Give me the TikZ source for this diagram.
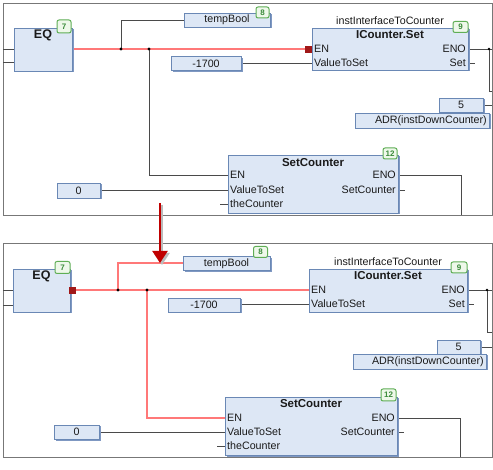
\documentclass[tikz,border=0pt]{standalone}
\usepackage{fontspec}
\setmainfont{Liberation Sans}
\usetikzlibrary{shadows,arrows.meta,calc}
\definecolor{fbfill}{HTML}{DDE7F5}
\definecolor{fbedge}{HTML}{6A88B5}
\definecolor{fbshadow}{HTML}{7F98C2}
\definecolor{wire}{HTML}{4A4A4A}
\definecolor{redwire}{HTML}{FF7878}
\definecolor{framec}{HTML}{777777}
\definecolor{badgeedge}{HTML}{5FAE55}
\definecolor{badgefill}{HTML}{EEF8EA}
\definecolor{badgetext}{HTML}{3A8A3A}
\definecolor{arrowred}{HTML}{C00000}
\definecolor{arrowshade}{HTML}{BBBBBB}
\definecolor{pinred}{HTML}{A01818}
\definecolor{txt}{HTML}{1A1A1A}
\tikzset{
  fb/.style={draw=fbedge, fill=fbfill, line width=0.8pt, inner sep=0pt,
    font=\fontsize{10.7}{11}\selectfont, text=txt,
    general shadow={fill=fbshadow, shadow xshift=1.5pt, shadow yshift=-1.5pt}},
  badge/.style={draw=badgeedge, fill=badgefill, line width=1pt, rounded corners=2pt,
    inner sep=0pt, font=\fontsize{8}{8}\selectfont\bfseries, text=badgetext},
  pinlbl/.style={inner sep=0pt, font=\fontsize{10.7}{11}\selectfont, text=txt},
  fbtitle/.style={inner sep=0pt, font=\fontsize{11.5}{12}\selectfont\bfseries, text=txt},
  wireg/.style={draw=wire, line width=0.8pt},
  wirer/.style={draw=redwire, line width=1.6pt},
  panel/.style={draw=framec, line width=0.9pt},
  jdot/.style={fill=black},
  redpin/.style={fill=pinred, minimum size=7pt, inner sep=0pt},
  bigarrow/.style={draw=arrowred, line width=2.2pt, -{Triangle[width=15pt,length=12pt]}},
  arrowshadow/.style={draw=arrowshade, line width=2.2pt, -{Triangle[width=15pt,length=12pt]}}
}
\begin{document}
\begin{tikzpicture}[x=1pt,y=-1pt]
\useasboundingbox (0,0) rectangle (493,470);
\fill[white] (0,0) rectangle (493,470);

%================ TOP PANEL =================
\draw[panel] (3,215) -- (3,3) -- (492,3) -- (492,215) -- cycle;

\coordinate (tIn1a) at (3,49);   \coordinate (tIn1b) at (14,49);
\coordinate (tIn2a) at (3,62);   \coordinate (tIn2b) at (14,62);
\coordinate (tEQo) at (72,49);
\coordinate (tJ1) at (121,49);
\coordinate (tJ2) at (149,49);
\coordinate (tICen) at (305,49);
\coordinate (tICvts) at (312,63);
\coordinate (tICeno) at (468,49);
\coordinate (tJ3) at (489,49);
\coordinate (tR1) at (492,49);
\coordinate (tR2) at (492,91);
\coordinate (tICset) at (468,63);
\coordinate (tICsetE) at (475,63);
\coordinate (t5E) at (492,105);
\coordinate (tSCen) at (228,175);
\coordinate (tSCvts) at (228,190);
\coordinate (tSCtc) at (228,204);
\coordinate (tSCtcS) at (220,204);
\coordinate (tSCeno) at (398,175);
\coordinate (tSCdown) at (461,215);
\coordinate (tSCsc) at (398,190);
\coordinate (tSCscE) at (405,190);

\draw[wireg] (tIn1a) -- (tIn1b);
\draw[wireg] (tIn2a) -- (tIn2b);
\draw[wireg] (tJ1) |- (184,20);
\draw[wireg] (tJ2) |- (tSCen);
\draw[wireg] (241,63) -- (tICvts);
\draw[wireg] (tICeno) -- (tR1);
\draw[wireg] (tJ3) |- (tR2);
\draw[wireg] (tICset) -- (tICsetE);
\draw[wireg] (483,105) -- (t5E);
\draw[wireg] (100,190) -- (tSCvts);
\draw[wireg] (tSCtcS) -- (tSCtc);
\draw[wireg] (tSCeno) -| (tSCdown);
\draw[wireg] (tSCsc) -- (tSCscE);
\draw[wirer] (tEQo) -- (tICen);
\fill[jdot] (tJ1) circle (1.6pt);
\fill[jdot] (tJ2) circle (1.6pt);
\fill[jdot] (tJ3) circle (1.4pt);

% EQ
\node[fb, minimum width=58pt, minimum height=43pt] (tEQ) at (43,49.5) {};
\node[fbtitle, font=\fontsize{12.5}{13}\selectfont\bfseries] (tEQt) at (43,35) {EQ};
\node[badge, minimum width=14pt, minimum height=13pt] (tB7) at (64,26.5) {7};

% tempBool
\node[fb, minimum width=86pt, minimum height=14pt] (tTB) at (227,20) {tempBool};
\node[badge, minimum width=13pt, minimum height=11pt] (tB8) at (262.5,12.5) {8};

% -1700
\node[fb, minimum width=70pt, minimum height=14pt] (tM) at (206,63.5) {-1700};

% ICounter.Set
\node[fb, minimum width=156pt, minimum height=42pt] (tIC) at (390,49) {};
\node[pinlbl] (tICinst) at (390,21) {instInterfaceToCounter};
\node[badge, minimum width=15pt, minimum height=11pt] (tB9) at (460.5,27) {9};
\node[fbtitle] (tICt) at (390,35) {ICounter.Set};
\node[pinlbl, anchor=west] (tICp1) at (314,49) {EN};
\node[pinlbl, anchor=west] (tICp2) at (314,63) {ValueToSet};
\node[pinlbl, anchor=east] (tICp3) at (466,49) {ENO};
\node[pinlbl, anchor=east] (tICp4) at (466,63) {Set};
\node[redpin] (tRP) at (308.5,49.5) {};

% 5 and ADR
\node[fb, minimum width=44pt, minimum height=14pt] (t5) at (461,105) {5};
\node[fb, minimum width=134pt, minimum height=15pt] (tADR) at (422,120.5) {};
\node[pinlbl, anchor=east] (tADRt) at (487,120.5) {ADR(instDownCounter)};

% SetCounter
\node[fb, minimum width=170pt, minimum height=58pt] (tSC) at (313,184) {};
\node[badge, minimum width=14pt, minimum height=11pt] (tB12) at (390,153.5) {12};
\node[fbtitle] (tSCt) at (313,163) {SetCounter};
\node[pinlbl, anchor=west] (tSCp1) at (230,175) {EN};
\node[pinlbl, anchor=west] (tSCp2) at (230,190) {ValueToSet};
\node[pinlbl, anchor=west] (tSCp3) at (230,204) {theCounter};
\node[pinlbl, anchor=east] (tSCp4) at (396,175) {ENO};
\node[pinlbl, anchor=east] (tSCp5) at (396,190) {SetCounter};

% 0
\node[fb, minimum width=43pt, minimum height=15pt] (t0) at (78.5,190.5) {0};

%================ BOTTOM PANEL =================
\draw[panel] (3,457) -- (3,243) -- (492,243) -- (492,457) -- cycle;

\coordinate (bIn1a) at (3,290);   \coordinate (bIn1b) at (13,290);
\coordinate (bIn2a) at (3,305);   \coordinate (bIn2b) at (13,305);
\coordinate (bEQo) at (76,290);
\coordinate (bJ1) at (118,290);
\coordinate (bJ2) at (147,290);
\coordinate (bICen) at (309,290);
\coordinate (bICvts) at (309,304);
\coordinate (bICeno) at (467,290);
\coordinate (bJ3) at (487,290);
\coordinate (bR1) at (492,290);
\coordinate (bR2) at (492,332);
\coordinate (bICset) at (467,304);
\coordinate (bICsetE) at (474,304);
\coordinate (b5E) at (492,347);
\coordinate (bSCen) at (225,418);
\coordinate (bSCvts) at (225,432);
\coordinate (bSCtc) at (225,446);
\coordinate (bSCtcS) at (217,446);
\coordinate (bSCeno) at (397,418);
\coordinate (bSCdown) at (460,457);
\coordinate (bSCsc) at (397,432);
\coordinate (bSCscE) at (404,432);
\coordinate (arS) at (160,203);
\coordinate (arE) at (160,263);
\coordinate (arSs) at (162,205);
\coordinate (arEs) at (162,265);

\draw[wireg] (bIn1a) -- (bIn1b);
\draw[wireg] (bIn2a) -- (bIn2b);
\draw[wireg] (240,304) -- (bICvts);
\draw[wireg] (bICeno) -- (bR1);
\draw[wireg] (bJ3) |- (bR2);
\draw[wireg] (bICset) -- (bICsetE);
\draw[wireg] (480,347) -- (b5E);
\draw[wireg] (99,432) -- (bSCvts);
\draw[wireg] (bSCtcS) -- (bSCtc);
\draw[wireg] (bSCeno) -| (bSCdown);
\draw[wireg] (bSCsc) -- (bSCscE);
\draw[wirer] (bEQo) -- (bICen);
\draw[wirer] (bJ1) |- (183,263);
\draw[wirer] (bJ2) |- (bSCen);
\fill[jdot] (bJ1) circle (1.6pt);
\fill[jdot] (bJ2) circle (1.6pt);
\fill[jdot] (bJ3) circle (1.4pt);

% EQ
\node[fb, minimum width=57pt, minimum height=43pt] (bEQ) at (41.5,290.5) {};
\node[fbtitle, font=\fontsize{12.5}{13}\selectfont\bfseries] (bEQt) at (41.5,276) {EQ};
\node[badge, minimum width=15pt, minimum height=12pt] (bB7) at (62.5,267.5) {7};
\node[redpin] (bRP) at (72.5,290.5) {};

% tempBool
\node[fb, minimum width=87pt, minimum height=14pt] (bTB) at (226.5,263.5) {tempBool};
\node[badge, minimum width=14pt, minimum height=11pt] (bB8) at (260.5,252) {8};

% -1700
\node[fb, minimum width=72pt, minimum height=14pt] (bM) at (204,305) {-1700};

% ICounter.Set
\node[fb, minimum width=158pt, minimum height=43pt] (bIC) at (388,290.5) {};
\node[pinlbl] (bICinst) at (388,262) {instInterfaceToCounter};
\node[badge, minimum width=16pt, minimum height=11pt] (bB9) at (459,267.5) {9};
\node[fbtitle] (bICt) at (388,276) {ICounter.Set};
\node[pinlbl, anchor=west] (bICp1) at (311,290) {EN};
\node[pinlbl, anchor=west] (bICp2) at (311,304) {ValueToSet};
\node[pinlbl, anchor=east] (bICp3) at (465,290) {ENO};
\node[pinlbl, anchor=east] (bICp4) at (465,304) {Set};

% 5 and ADR
\node[fb, minimum width=43pt, minimum height=14pt] (b5) at (458.5,347) {5};
\node[fb, minimum width=133pt, minimum height=15pt] (bADR) at (419.5,361.5) {};
\node[pinlbl, anchor=east] (bADRt) at (484,361.5) {ADR(instDownCounter)};

% SetCounter
\node[fb, minimum width=172pt, minimum height=58pt] (bSC) at (311,426) {};
\node[badge, minimum width=15pt, minimum height=12pt] (bB12) at (388.5,395) {12};
\node[fbtitle] (bSCt) at (311,404) {SetCounter};
\node[pinlbl, anchor=west] (bSCp1) at (227,418) {EN};
\node[pinlbl, anchor=west] (bSCp2) at (227,432) {ValueToSet};
\node[pinlbl, anchor=west] (bSCp3) at (227,446) {theCounter};
\node[pinlbl, anchor=east] (bSCp4) at (395,418) {ENO};
\node[pinlbl, anchor=east] (bSCp5) at (395,432) {SetCounter};

% 0
\node[fb, minimum width=45pt, minimum height=14pt] (b0) at (76.5,432) {0};

% big arrow with soft shadow
\draw[arrowshadow] (arSs) -- (arEs);
\draw[bigarrow] (arS) -- (arE);
\end{tikzpicture}
\end{document}
